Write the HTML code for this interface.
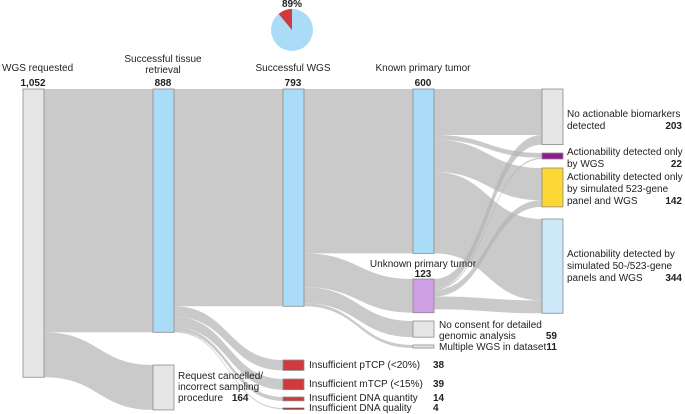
<!DOCTYPE html>
<html><head><meta charset="utf-8">
<style>
body{margin:0;background:#fff;}
svg{display:block;font-family:"Liberation Sans",sans-serif;font-size:10px;fill:#222;}
.b{font-weight:bold;}
</style></head>
<body>
<svg id="chart" width="685" height="414" viewBox="0 0 685 414">
<g id="links"></g><g id="nodes"></g><g id="pie"></g>
<g>
<text x="292" y="7" text-anchor="middle" class="b">89%</text>
<text x="2" y="71">WGS requested</text>
<text x="33" y="86" text-anchor="middle" class="b">1,052</text>
<text x="163" y="62" text-anchor="middle">Successful tissue</text>
<text x="163" y="73" text-anchor="middle">retrieval</text>
<text x="163" y="86" text-anchor="middle" class="b">888</text>
<text x="293" y="71" text-anchor="middle">Successful WGS</text>
<text x="293" y="86" text-anchor="middle" class="b">793</text>
<text x="423" y="71" text-anchor="middle">Known primary tumor</text>
<text x="423" y="86" text-anchor="middle" class="b">600</text>
<text x="423" y="267" text-anchor="middle">Unknown primary tumor</text>
<text x="423" y="277" text-anchor="middle" class="b">123</text>
<text x="178" y="379">Request cancelled/</text>
<text x="178" y="390">incorrect sampling</text>
<text x="178" y="401">procedure <tspan class="b" dx="6">164</tspan></text>
<text x="309" y="368">Insufficient pTCP (&lt;20%)</text><text x="433" y="368" class="b">38</text>
<text x="309" y="387">Insufficient mTCP (&lt;15%)</text><text x="433" y="387" class="b">39</text>
<text x="309" y="401">Insufficient DNA quantity</text><text x="433" y="401" class="b">14</text>
<text x="309" y="411">Insufficient DNA quality</text><text x="433" y="411" class="b">4</text>
<text x="439" y="328">No consent for detailed</text>
<text x="439" y="339">genomic analysis</text><text x="557" y="339" class="b" text-anchor="end">59</text>
<text x="439" y="350">Multiple WGS in dataset</text><text x="557" y="350" class="b" text-anchor="end">11</text>
<text x="567" y="117">No actionable biomarkers</text>
<text x="567" y="129">detected</text><text x="682" y="129" class="b" text-anchor="end">203</text>
<text x="567" y="155">Actionability detected only</text>
<text x="567" y="167">by WGS</text><text x="682" y="167" class="b" text-anchor="end">22</text>
<text x="567" y="180">Actionability detected only</text>
<text x="567" y="192">by simulated 523-gene</text>
<text x="567" y="204">panel and WGS</text><text x="682" y="204" class="b" text-anchor="end">142</text>
<text x="567" y="257">Actionability detected by</text>
<text x="567" y="269">simulated 50-/523-gene</text>
<text x="567" y="281">panels and WGS</text><text x="682" y="281" class="b" text-anchor="end">344</text>
</g>
</svg>
<script>
const K = 0.274;
const nodeNames = ['requested','tissue','cancelled','wgs','ptcp','mtcp','qty','qual','known','unknown','noconsent','multiple','na','wgsonly','panel523','panel50'];
const nodeValues = [1052,888,164,793,38,39,14,4,600,123,59,11,203,22,142,344];
const linkSources = ['requested','requested','tissue','tissue','tissue','tissue','tissue','wgs','wgs','wgs','wgs','known','known','known','known','unknown','unknown','unknown','unknown'];
const linkTargets = ['tissue','cancelled','wgs','ptcp','mtcp','qty','qual','known','unknown','noconsent','multiple','na','wgsonly','panel523','panel50','na','wgsonly','panel523','panel50'];
const linkValues = [888,164,793,38,39,14,4,600,123,59,11,168,17,118,297,35,5,24,47];

const layout = {requested:[23,89,'#e6e6e6'],tissue:[153,89,'#aadcf7'],cancelled:[153,365,'#e6e6e6'],
 wgs:[283,89,'#aadcf7'],ptcp:[283,360,'#d0393e'],mtcp:[283,379,'#d0393e'],qty:[283,397,'#d0393e'],qual:[283,408,'#8b1a1a'],
 known:[413,89,'#aadcf7'],unknown:[413,279,'#cf9fe6'],noconsent:[413,321,'#e6e6e6'],multiple:[413,345,'#e6e6e6'],
 na:[542,89,'#e6e6e6'],wgsonly:[542,153,'#8e1a8e'],panel523:[542,168,'#fdd835'],panel50:[542,219,'#cde8f8']};
const W=21, NS='http://www.w3.org/2000/svg';
const outOff={}, inOff={};
nodeNames.forEach(n=>{outOff[n]=0;inOff[n]=0;});
const gl=document.getElementById('links');
linkValues.forEach((v,i)=>{
  const s=linkSources[i], t=linkTargets[i], h=v*K;
  const x0=layout[s][0]+W, y0=layout[s][1]+outOff[s];
  const x1=layout[t][0], y1=layout[t][1]+inOff[t];
  outOff[s]+=h; inOff[t]+=h;
  const mx=(x0+x1)/2;
  const p=document.createElementNS(NS,'path');
  p.setAttribute('d',`M${x0},${y0} C${mx},${y0} ${mx},${y1} ${x1},${y1} L${x1},${y1+h} C${mx},${y1+h} ${mx},${y0+h} ${x0},${y0+h} Z`);
  p.setAttribute('fill','#b4b4b4');p.setAttribute('fill-opacity','0.7');
  
  
  gl.appendChild(p);
});
const gn=document.getElementById('nodes');
nodeNames.forEach((n,i)=>{
  const r=document.createElementNS(NS,'rect');
  const h=Math.max(nodeValues[i]*K,1.5);
  r.setAttribute('x',layout[n][0]);r.setAttribute('y',layout[n][1]);
  r.setAttribute('width',W);r.setAttribute('height',h);
  r.setAttribute('fill',layout[n][2]);r.setAttribute('stroke','#8a8a8a');r.setAttribute('stroke-width','0.8');
  
  
  gn.appendChild(r);
});
const pieVals=[89,11];
const cx=292,cy=30,R=21;
const gp=document.getElementById('pie');
const a=pieVals[1]/100*2*Math.PI;
const c=document.createElementNS(NS,'circle');
c.setAttribute('cx',cx);c.setAttribute('cy',cy);c.setAttribute('r',R);c.setAttribute('fill','#aadcf7');


gp.appendChild(c);
const sl=document.createElementNS(NS,'path');
sl.setAttribute('d',`M${cx},${cy} L${cx},${cy-R} A${R},${R} 0 0 0 ${cx-R*Math.sin(a)},${cy-R*Math.cos(a)} Z`);
sl.setAttribute('fill','#d0393e');


gp.appendChild(sl);
</script>
</body></html>
